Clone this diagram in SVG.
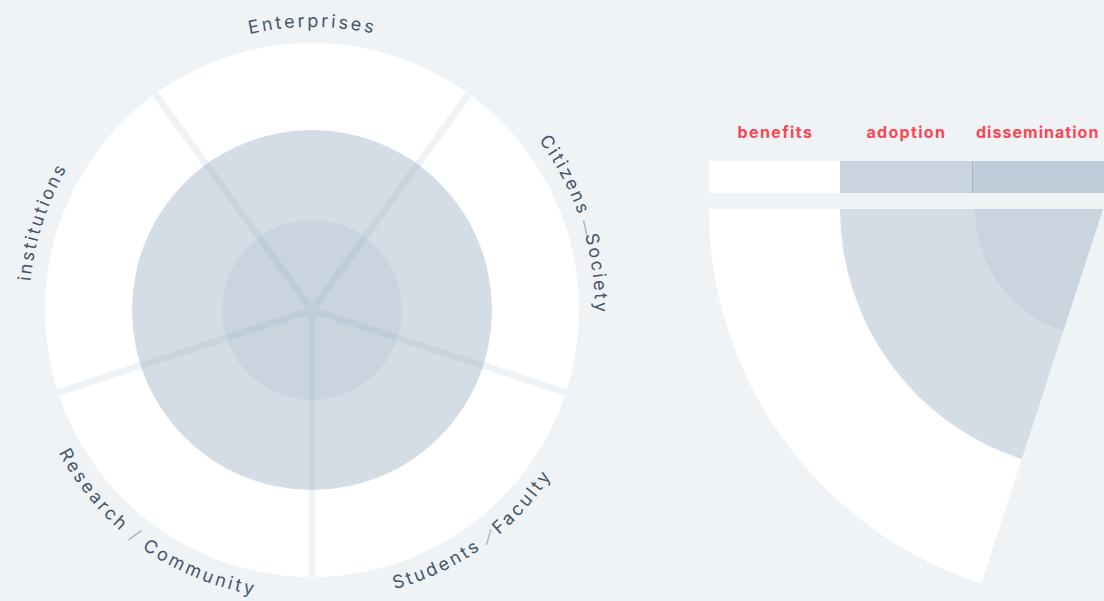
<svg xmlns="http://www.w3.org/2000/svg" width="1104" height="601" viewBox="0 0 1104 601">
  <style>
    .bg { fill: #eff3f6; }
    .white { fill: #ffffff; }
    .ov1 { fill: #708ea8; fill-opacity: 0.3; }
    .ov2 { fill: #708ea8; fill-opacity: 0.1; }
    .gap { stroke: #eff3f6; stroke-width: 7; stroke-linecap: butt; }
    .lbl { font-family: Inter, "Liberation Sans", sans-serif; font-size: 18px; fill: #43566b; letter-spacing: 2px; }
    .sep { fill: #9aa9b8; font-weight: 300; }
    .hdr { font-family: Inter, "Liberation Sans", sans-serif; font-size: 16px; font-weight: 700; fill: #fd4452; text-anchor: middle; letter-spacing: 0.6px; }
  </style>
  <defs>
    <path id="pEnt" d="M312,593 A283,283 0 0 1 312,27 A283,283 0 0 1 312,593"/>
    <path id="pCit" d="M42.85,397.45 A283,283 0 0 1 581.15,222.55 A283,283 0 0 1 42.85,397.45"/>
    <path id="pIns" d="M581.15,397.45 A283,283 0 0 1 42.85,222.55 A283,283 0 0 1 581.15,397.45"/>
    <path id="pRes" d="M484.2,73 A293,293 0 0 0 139.8,547 A293,293 0 0 0 484.2,73"/>
    <path id="pStu" d="M139.8,73 A293,293 0 0 0 484.2,547 A293,293 0 0 0 139.8,73"/>
  </defs>
  <rect class="bg" x="0" y="0" width="1104" height="601"/>

  <g id="wheel">
    <circle class="white" cx="312" cy="310" r="267"/>
    <g id="connectors">
      <line class="gap" x1="312" y1="310" x2="573.5" y2="395"/>
      <line class="gap" x1="312" y1="310" x2="312" y2="585"/>
      <line class="gap" x1="312" y1="310" x2="50.5" y2="395"/>
      <line class="gap" x1="312" y1="310" x2="150.4" y2="87.5"/>
      <line class="gap" x1="312" y1="310" x2="473.6" y2="87.5"/>
    </g>
    <circle class="ov1" cx="312" cy="310" r="180"/>
    <circle class="ov2" cx="312" cy="310" r="90"/>
  </g>

  <g id="label-enterprises">
    <text class="lbl"><textPath href="#pEnt" startOffset="50%" text-anchor="middle" textLength="126" lengthAdjust="spacing">Enterprises</textPath></text>
  </g>
  <g id="label-citizens">
    <text class="lbl"><textPath href="#pCit" startOffset="50%" text-anchor="middle" textLength="186" lengthAdjust="spacing">Citizens <tspan class="sep" rotate="80" dx="-4">/</tspan> Society</textPath></text>
  </g>
  <g id="label-institutions">
    <text class="lbl"><textPath href="#pIns" startOffset="50%" text-anchor="middle" textLength="121" lengthAdjust="spacing">institutions</textPath></text>
  </g>
  <g id="label-research">
    <text class="lbl"><textPath href="#pRes" startOffset="50%" text-anchor="middle" textLength="251" lengthAdjust="spacing">Research <tspan class="sep">/</tspan> Community</textPath></text>
  </g>
  <g id="label-students">
    <text class="lbl"><textPath href="#pStu" startOffset="50%" text-anchor="middle" textLength="199" lengthAdjust="spacing">Students <tspan class="sep" rotate="40" dx="-3">/</tspan> Faculty</textPath></text>
  </g>

  <g id="legend">
    <rect class="white" x="709" y="161" width="131" height="32"/>
    <rect class="ov1" x="840" y="161" width="264" height="32"/>
    <rect class="ov2" x="972" y="161" width="132" height="32"/>
    <line x1="972.5" y1="161" x2="972.5" y2="193" stroke="#a7b6c4" stroke-width="1"/>
    <text class="hdr" x="775" y="138" textLength="75" lengthAdjust="spacing">benefits</text>
    <text class="hdr" x="906" y="138" textLength="79" lengthAdjust="spacing">adoption</text>
    <text class="hdr" x="1037.5" y="138" textLength="123" lengthAdjust="spacing">dissemination</text>
  </g>

  <g id="wedge">
    <path class="white" d="M1103,209 L709,209 A394,394 0 0 0 981.25,583.72 Z"/>
    <path class="ov1" d="M1103,209 L840,209 A263,263 0 0 0 1021.73,459.13 Z"/>
    <path class="ov2" d="M1103,209 L975,209 A128,128 0 0 0 1063.45,330.73 Z"/>
  </g>
</svg>
